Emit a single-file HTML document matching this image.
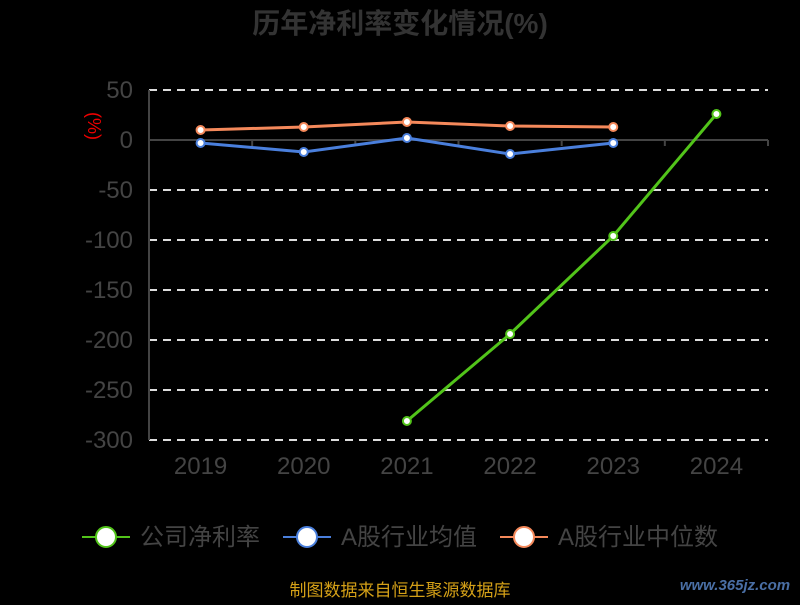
<!DOCTYPE html>
<html><head><meta charset="utf-8"><style>
body{margin:0;background:#000;width:800px;height:600px;overflow:hidden;font-family:"Liberation Sans","Noto Sans CJK SC",sans-serif}
</style></head><body>
<svg width="800" height="600" id="c">
<text x="400" y="33" text-anchor="middle" font-size="28" font-weight="bold" fill="#333" font-family="Liberation Sans, Noto Sans CJK SC, sans-serif">历年净利率变化情况(%)</text>
<text transform="translate(88,126) rotate(90)" text-anchor="middle" font-size="18" fill="#e00">(%)</text>
<g id="grid"></g><g id="series"></g>
<g font-size="24" fill="#444" font-family="Liberation Sans, Noto Sans CJK SC, sans-serif">
<g><line x1="82" y1="537" x2="130" y2="537" stroke="#52c41a" stroke-width="2"/><circle cx="106" cy="537" r="10" fill="#fff" stroke="#52c41a" stroke-width="2"/><text x="140" y="545">公司净利率</text></g>
<g><line x1="283" y1="537" x2="331" y2="537" stroke="#4a7fdc" stroke-width="2"/><circle cx="307" cy="537" r="10" fill="#fff" stroke="#4a7fdc" stroke-width="2"/><text x="341" y="545">A股行业均值</text></g>
<g><line x1="500" y1="537" x2="548" y2="537" stroke="#f5895b" stroke-width="2"/><circle cx="524" cy="537" r="10" fill="#fff" stroke="#f5895b" stroke-width="2"/><text x="558" y="545">A股行业中位数</text></g>
</g>
<text x="400" y="596" text-anchor="middle" font-size="17" fill="#d4a017">制图数据来自恒生聚源数据库</text>
<text x="735" y="590" text-anchor="middle" font-size="15" font-weight="bold" fill="#4a6fa5" font-style="italic">www.365jz.com</text>
</svg>
<script>
const categories=["2019","2020","2021","2022","2023","2024"];
const yTicks=[50,0,-50,-100,-150,-200,-250,-300];
const company=[null,null,-281,-194,-96,26];
const industryAvg=[-3,-12,2,-14,-3,null];
const industryMedian=[10,13,18,14,13,null];
const NS="http://www.w3.org/2000/svg";
const x0=149,x1=768,bw=(x1-x0)/categories.length;
const xs=i=>x0+bw*(i+0.5);
const ys=v=>140-(v)*(350/350);
function mk(t,a,p){const e=document.createElementNS(NS,t);for(const k in a)e.setAttribute(k,a[k]);p.appendChild(e);return e;}
const g=document.getElementById('grid');
yTicks.forEach(v=>{
 if(v!==0){const l=mk('line',{x1:x0,x2:x1,y1:ys(v),y2:ys(v),stroke:'#ddd','stroke-width':2,'stroke-dasharray':'8,6'},g);
 
 }
 const t=mk('text',{x:133,y:ys(v)+8,'text-anchor':'end','font-size':24,fill:'#444'},g);t.textContent=v;
 
 
});
const za=mk('line',{x1:x0,x2:x1,y1:ys(0),y2:ys(0),stroke:'#444','stroke-width':2},g);


const ya=mk('line',{x1:x0,x2:x0,y1:90,y2:440,stroke:'#444','stroke-width':2},g);


for(let i=0;i<=categories.length;i++){mk('line',{x1:x0+bw*i,x2:x0+bw*i,y1:140,y2:146,stroke:'#444','stroke-width':2},g);}
categories.forEach((c,i)=>{const t=mk('text',{x:xs(i),y:474,'text-anchor':'middle','font-size':24,fill:'#444'},g);t.textContent=c;
 
 });
const s=document.getElementById('series');
function draw(arr,col,name){
 const pts=[];arr.forEach((v,i)=>{if(v!==null)pts.push([xs(i),ys(v)]);});
 const p=mk('polyline',{points:pts.map(p=>p.join(',')).join(' '),fill:'none',stroke:col,'stroke-width':3},s);
 
 
 pts.forEach(q=>{const c=mk('circle',{cx:q[0],cy:q[1],r:4,fill:'#fff',stroke:col,'stroke-width':2},s);
 
 });
}
draw(industryMedian,'#f5895b','industry-median');
draw(industryAvg,'#4a7fdc','industry-avg');
draw(company,'#52c41a','company');
</script>
</body></html>
